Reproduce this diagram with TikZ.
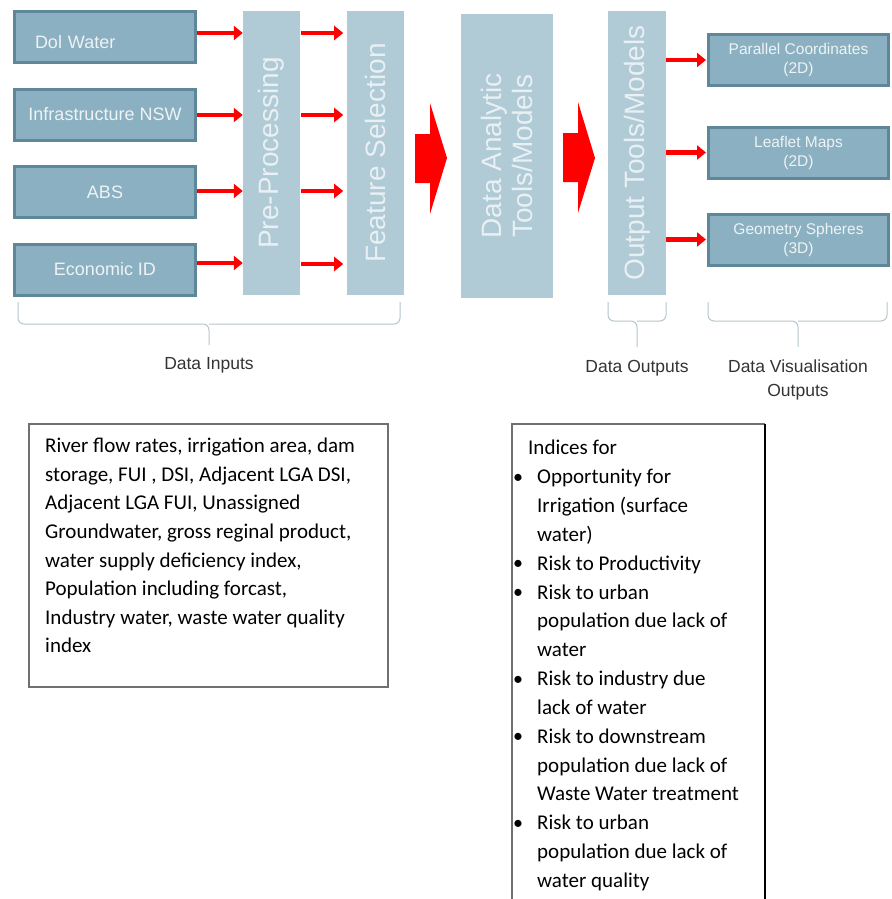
\documentclass[tikz,border=0pt]{standalone}
\usepackage{fontspec}
\setmainfont{Liberation Sans}
\newfontfamily\calibri{Carlito}
\usepackage{xcolor}
\usepackage{tikz}
\usetikzlibrary{positioning, arrows.meta}

\definecolor{boxfill}{HTML}{8BB0C1}
\definecolor{boxedge}{HTML}{5E8899}
\definecolor{boxtext}{HTML}{EEF3F5}
\definecolor{barfill}{HTML}{B0CBD6}
\definecolor{bartext}{HTML}{E8F0F3}
\definecolor{arrowred}{HTML}{FF0000}
\definecolor{bracketgray}{HTML}{B5C6CC}
\definecolor{labelgray}{HTML}{333333}
\definecolor{framegray}{HTML}{707070}

\newcommand{\listbullet}{\makebox[25pt][l]{\hspace{1pt}\raisebox{0.5pt}{\fontsize{20}{20}\selectfont\textbullet}}}
\newcommand{\listindent}{\hspace*{25pt}}

\tikzset{
  inbox/.style={draw=boxedge, line width=3pt, fill=boxfill, minimum width=181pt, minimum height=51pt, text=boxtext, font=\fontsize{18}{21}\selectfont},
  visbox/.style={inbox, minimum width=180pt, align=center, font=\fontsize{15.5}{19}\selectfont},
  bar/.style={fill=barfill, minimum height=284pt, inner sep=0pt},
  bartext/.style={rotate=90, text=bartext, align=center, font=\fontsize{28}{31}\selectfont},
  redarrow/.style={draw=arrowred, line width=4.5pt, -{Triangle[length=9pt, width=14pt]}},
  bigred/.style={fill=arrowred},
  bracket/.style={draw=bracketgray, line width=1pt, rounded corners=6pt},
  grouplabel/.style={text=labelgray, align=center, font=\fontsize{17.5}{24}\selectfont},
  listframe/.style={draw=framegray, line width=1.5pt},
  listtext/.style={anchor=north west, inner sep=0pt, align=left, font=\calibri\fontsize{21}{28.6}\selectfont},
}

\begin{document}
\begin{tikzpicture}[x=1pt, y=-1pt, >=Stealth, node distance=23.5pt and 47pt]
    \useasboundingbox (0,0) rectangle (891,899);

    % Data sources
    \node (dolwater) [inbox, text width=140pt, align=left, text height=23pt, text depth=0pt] at (105,37) {Dol Water}; % first source
    \node (infra) [inbox, below=of dolwater] {Infrastructure NSW};
    \node (abs) [inbox, below=of infra] {ABS};
    \node (econ) [inbox, below=of abs] {Economic ID};

    % Processing stages
    \node (preproc) [bar, minimum width=57pt, label={[bartext]center:Pre-Processing}] at (271.5,153) {};
    \node (featsel) [bar, minimum width=57pt, right=of preproc, label={[bartext]center:Feature Selection}] {};
    \node (analytic) [bar, minimum width=92pt, label={[bartext]center:Data Analytic\\Tools/Models}] at (507,156) {};
    \node (outtools) [bar, minimum width=58pt, label={[bartext]center:Output Tools/Models}] at (637,153) {};

    % Visualisation outputs
    \node (parallel) [visbox] at (798.5,60) {Parallel Coordinates\\(2D)};
    \node (leaflet) [visbox] at (798.5,152.5) {Leaflet Maps\\(2D)};
    \node (geometry) [visbox] at (798.5,239.5) {Geometry Spheres\\(3D)};

    % Arrows
    \foreach \src/\ypos in {dolwater/33, infra/115, abs/191, econ/263}
        \draw[redarrow] (\src.east |- 0,\ypos) -- (preproc.west |- 0,\ypos);
    \foreach \ypos in {33, 115, 191, 264}
        \draw[redarrow, shorten <=1pt, shorten >=4pt] (preproc.east |- 0,\ypos) -- (featsel.west |- 0,\ypos);
    \foreach \dst in {parallel, leaflet, geometry}
        \draw[redarrow, shorten >=1pt] (outtools.east |- \dst.west) -- (\dst.west);

    % Block arrows between the stages
    \coordinate (bigA) at (415,158);
    \coordinate (bigB) at (563,158);
    \fill[bigred] (bigA) ++(0,-24) -- ++(15,0) -- ++(0,-31) -- ++(17,55) -- ++(-17,56) -- ++(0,-31) -- ++(-15,0) -- cycle;
    \fill[bigred] (bigB) ++(0,-25) -- ++(15,0) -- ++(0,-31) -- ++(17,56) -- ++(-17,55) -- ++(0,-31) -- ++(-15,0) -- cycle;

    % Group brackets
    \draw[bracket] (18,302) |- (209,324) -- (209,345);
    \draw[bracket] (400,302) |- (209,324);
    \draw[bracket] (608,302) |- (637,321) -- (637,347);
    \draw[bracket] (666,302) |- (637,321);
    \draw[bracket] (708,302) |- (798,321) -- (798,347);
    \draw[bracket] (887,302) |- (798,321);

    \node (inputs) [grouplabel] at (209,365) {Data Inputs};
    \node (outputs) [grouplabel] at (637,368) {Data Outputs};
    \node (visout) [grouplabel] at (798,380) {Data Visualisation\\Outputs};

    % Variable list
    \node (varframe) [listframe, minimum width=359pt, minimum height=263pt, anchor=north west] at (28,423) {};
    \node (varlist) [listtext] at (45,438) {River flow rates, irrigation area, dam\\
        storage, FUI , DSI, Adjacent LGA DSI,\\
        Adjacent LGA FUI, Unassigned\\
        Groundwater, gross reginal product,\\
        water supply deficiency index,\\
        Population including forcast,\\
        Industry water, waste water quality\\
        index};

    % Indices list (box runs off the bottom)
    \draw[listframe] (512,899) |- (765,424);
    \draw[draw=black, line width=2pt] (765,424) -- (765,899);
    \node (indices) [listtext, font=\calibri\fontsize{21}{28.85}\selectfont] at (512,440) {\hspace*{16pt}Indices for\\
        \listbullet Opportunity for\\
        \listindent Irrigation (surface\\
        \listindent water)\\
        \listbullet Risk to Productivity\\
        \listbullet Risk to urban\\
        \listindent population due lack of\\
        \listindent water\\
        \listbullet Risk to industry due\\
        \listindent lack of water\\
        \listbullet Risk to downstream\\
        \listindent population due lack of\\
        \listindent Waste Water treatment\\
        \listbullet Risk to urban\\
        \listindent population due lack of\\
        \listindent water quality};
\end{tikzpicture}
\end{document}
